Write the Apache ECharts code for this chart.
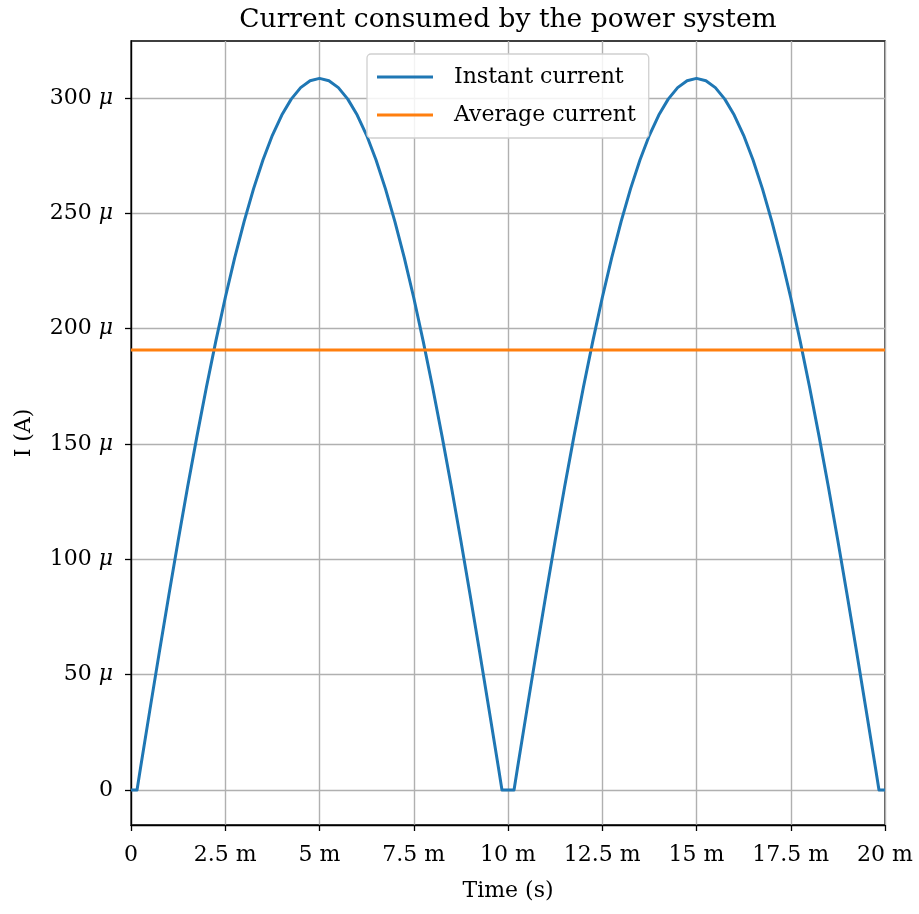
<!DOCTYPE html>
<html>
<head>
<meta charset="utf-8">
<script src="https://cdn.jsdelivr.net/npm/echarts@6/dist/echarts.min.js"></script>
<style>html,body{margin:0;padding:0;background:#fff}#chart{width:919px;height:914px}</style>
</head>
<body>
<div id="chart"></div>
<script>
// Time in ms
const timeMs = [
  0, 0.16, 0.25, 0.5, 0.75, 1, 1.25, 1.5, 1.75, 2, 2.25, 2.5, 2.75, 3, 3.25, 3.5, 3.75, 4, 4.25, 4.5, 4.75,
  5, 5.25, 5.5, 5.75, 6, 6.25, 6.5, 6.75, 7, 7.25, 7.5, 7.75, 8, 8.25, 8.5, 8.75, 9, 9.25, 9.5, 9.75, 9.84,
  10.16, 10.25, 10.5, 10.75, 11, 11.25, 11.5, 11.75, 12, 12.25, 12.5, 12.75, 13, 13.25, 13.5, 13.75, 14, 14.25, 14.5, 14.75,
  15, 15.25, 15.5, 15.75, 16, 16.25, 16.5, 16.75, 17, 17.25, 17.5, 17.75, 18, 18.25, 18.5, 18.75, 19, 19.25, 19.5, 19.75, 19.84, 20
];
// Instant current in µA
const instantCurrent = [
  0, 0, 9.3, 34.6, 59.6, 84.1, 108.0, 131.2, 153.4, 174.6, 194.6, 213.4, 230.7, 246.4, 260.6, 273.1, 283.8, 292.6, 299.5, 304.5, 307.5,
  308.5, 307.5, 304.5, 299.5, 292.6, 283.8, 273.1, 260.6, 246.4, 230.7, 213.4, 194.6, 174.6, 153.4, 131.2, 108.0, 84.1, 59.6, 34.6, 9.3, 0,
  0, 9.3, 34.6, 59.6, 84.1, 108.0, 131.2, 153.4, 174.6, 194.6, 213.4, 230.7, 246.4, 260.6, 273.1, 283.8, 292.6, 299.5, 304.5, 307.5,
  308.5, 307.5, 304.5, 299.5, 292.6, 283.8, 273.1, 260.6, 246.4, 230.7, 213.4, 194.6, 174.6, 153.4, 131.2, 108.0, 84.1, 59.6, 34.6, 9.3, 0, 0
];
const averageCurrent = 190.7;
const avgTimes = [0, 20];
const yTicks = [0, 50, 100, 150, 200, 250, 300];

const FONT = '"DejaVu Serif", serif';
const chart = echarts.init(document.getElementById('chart'));
chart.setOption({
  animation: false,
  backgroundColor: '#fff',
  title: {
    text: 'Current consumed by the power system',
    left: 503, textAlign: 'center', top: 2,
    textStyle: {fontFamily: FONT, fontSize: 26.5, fontWeight: 'normal', color: '#000'}
  },
  legend: {
    orient: 'vertical', left: 367, top: 54,
    padding: [12, 13, 12, 10], itemGap: 16,
    itemWidth: 56, itemHeight: 3,
    backgroundColor: 'rgba(255,255,255,0.85)', borderColor: '#d0d0d0', borderWidth: 1.3, borderRadius: 4,
    textStyle: {fontFamily: FONT, fontSize: 22, color: '#000', padding: [0, 0, 0, 16]},
    icon: 'rect',
    data: ['Instant current', 'Average current']
  },
  grid: {left: 131, right: 34, top: 41, bottom: 89, show: true, borderColor: '#000', borderWidth: 1.3, backgroundColor: 'transparent'},
  xAxis: {
    type: 'value', min: 0, max: 20, interval: 2.5,
    name: 'Time (s)', nameLocation: 'middle', nameGap: 55,
    nameTextStyle: {fontFamily: FONT, fontSize: 22, color: '#000'},
    axisLine: {onZero: false, lineStyle: {color: '#000', width: 1.3}},
    axisTick: {inside: false, length: 6, lineStyle: {color: '#000', width: 1.3}},
    axisLabel: {fontFamily: FONT, fontSize: 22, color: '#000', margin: 19,
      formatter: v => v === 0 ? '0' : v + ' m'},
    splitLine: {show: true, lineStyle: {color: '#b0b0b0', width: 1.4}}
  },
  yAxis: {
    type: 'value', min: -15.2, max: 324.7,
    name: 'I (A)', nameLocation: 'middle', nameGap: 96, nameRotate: 90,
    nameTextStyle: {fontFamily: FONT, fontSize: 22, color: '#000'},
    axisLine: {onZero: false, lineStyle: {color: '#000', width: 1.3}},
    axisTick: {inside: false, length: 6, customValues: yTicks, lineStyle: {color: '#000', width: 1.3}},
    axisLabel: {fontFamily: FONT, fontSize: 22, color: '#000', margin: 18, customValues: yTicks,
      formatter: v => v === 0 ? '0' : v + ' {u|μ}',
      rich: {u: {fontFamily: FONT, fontSize: 22, fontStyle: 'italic', color: '#000'}}},
    splitLine: {show: true, lineStyle: {color: '#b0b0b0', width: 1.4}}
  },
  series: [
    {
      name: 'Instant current', type: 'line', showSymbol: false, symbol: 'none',
      data: timeMs.map((t, i) => [t, instantCurrent[i]]),
      lineStyle: {color: '#1f77b4', width: 3, join: 'round'}, itemStyle: {color: '#1f77b4'}, z: 3
    },
    {
      name: 'Average current', type: 'line', showSymbol: false, symbol: 'none',
      data: avgTimes.map(t => [t, averageCurrent]),
      lineStyle: {color: '#ff7f0e', width: 3}, itemStyle: {color: '#ff7f0e'}, z: 4
    }
  ]
});
</script>
</body>
</html>
